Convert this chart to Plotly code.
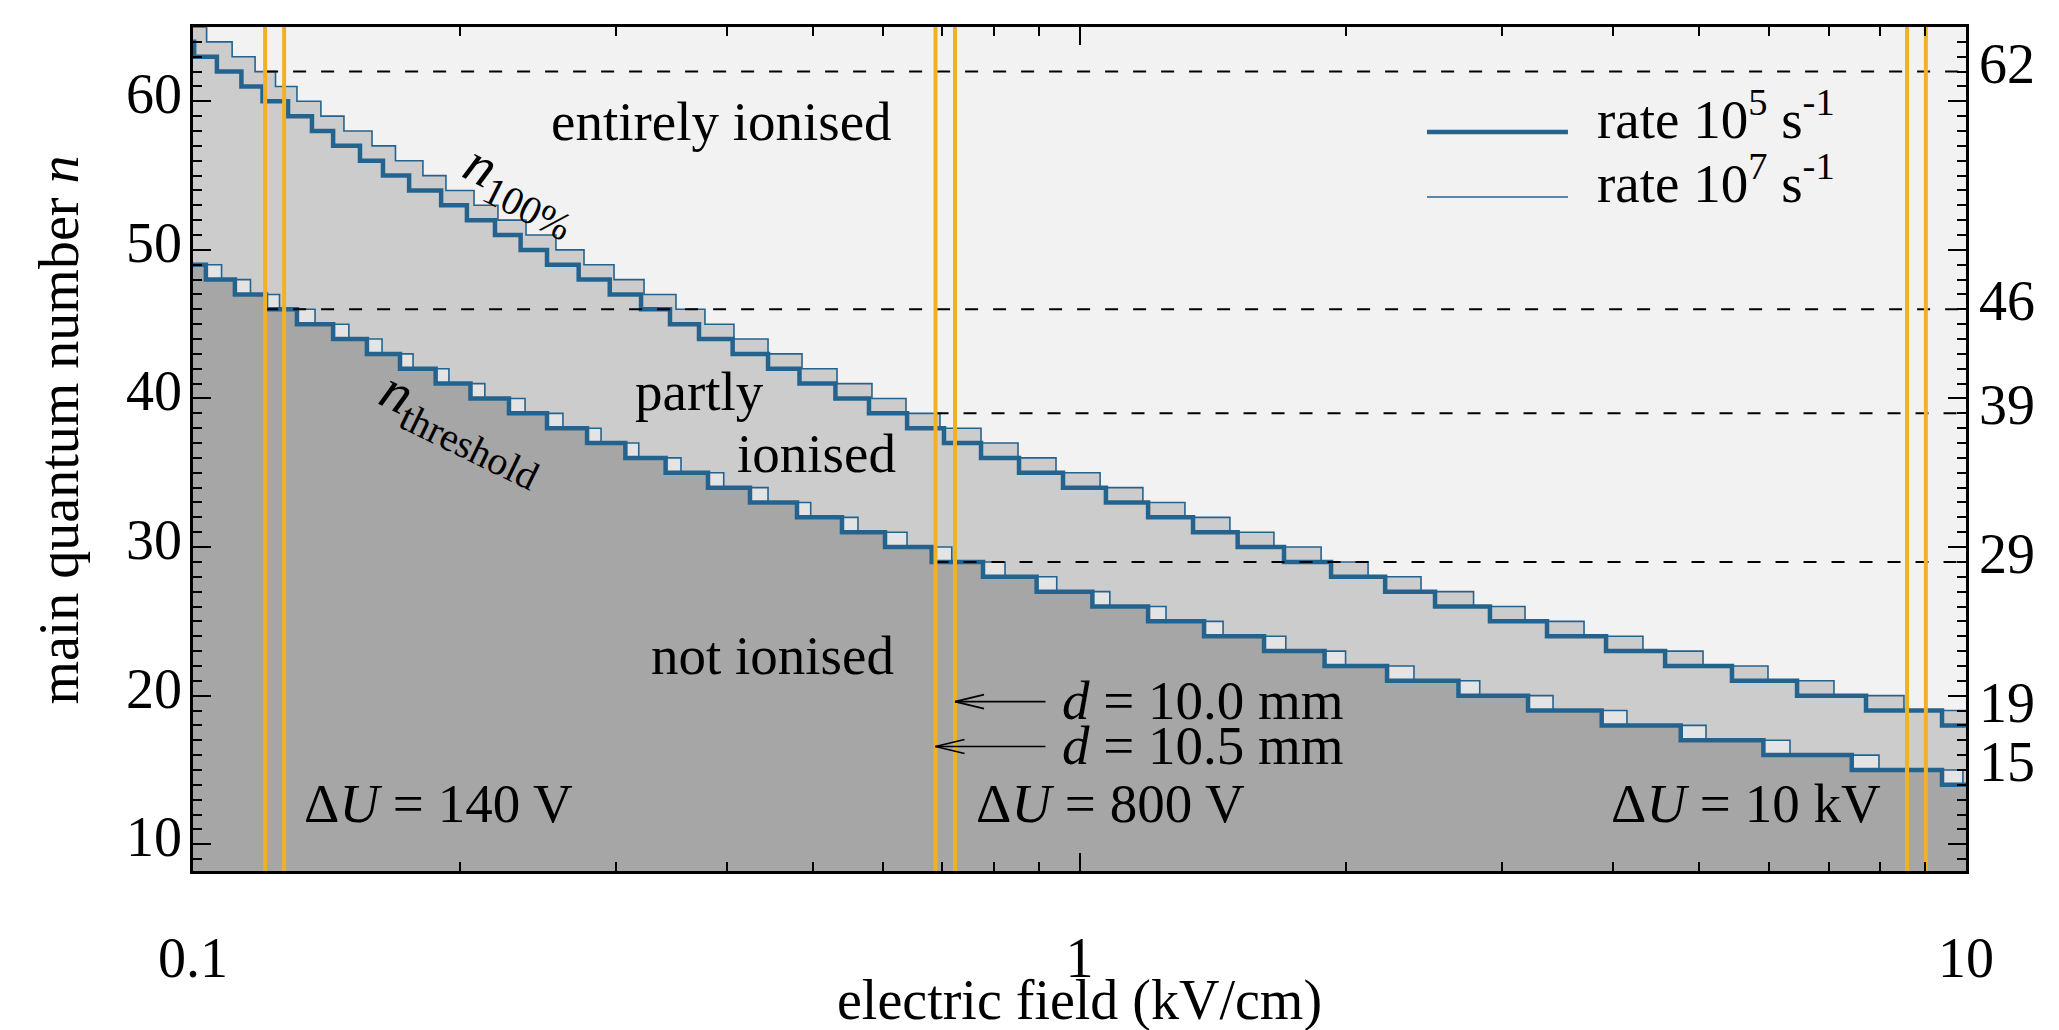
import math
import plotly.graph_objects as go

FONT = "Liberation Serif"
BLUE = "#25638f"
ORANGE = "#f0b224"

# axis extents
E_RANGE = (0.1, 10.0)      # electric field, kV/cm
N_RANGE = (8.2, 65.0)      # main quantum number n

# n_100% boundary: first level at 0.1 kV/cm, then the field (kV/cm) at which it drops by one
n100_slow_top = 64         # rate 1e5 s^-1
n100_slow_drops = [0.1003, 0.1064, 0.1134, 0.1198, 0.1280, 0.1362, 0.1439, 0.1543, 0.1638, 0.1753,
                   0.1905, 0.2037, 0.2191, 0.2342, 0.2508, 0.2723, 0.2952, 0.3202, 0.3452, 0.3722,
                   0.4062, 0.4453, 0.4832, 0.5305, 0.5788, 0.6390, 0.7033, 0.7743, 0.8546, 0.9581,
                   1.071, 1.195, 1.343, 1.508, 1.701, 1.922, 2.212, 2.518, 2.904, 3.368,
                   3.926, 4.577, 5.445, 6.448, 7.713, 9.396]
n100_fast_top = 65         # rate 1e7 s^-1
n100_fast_drops = [0.1036, 0.1107, 0.1175, 0.1239, 0.1310, 0.1394, 0.1480, 0.1592, 0.1692, 0.1817,
                   0.1929, 0.2075, 0.2208, 0.2375, 0.2567, 0.2761, 0.2985, 0.3227, 0.3506, 0.3780,
                   0.4076, 0.4453, 0.4864, 0.5327, 0.5833, 0.6372, 0.6960, 0.7743, 0.8524, 0.9408,
                   1.055, 1.179, 1.315, 1.478, 1.657, 1.873, 2.116, 2.428, 2.783, 3.181,
                   3.708, 4.321, 5.051, 5.979, 7.097, 8.512]

# n_threshold boundary
nthr_slow_top = 49         # rate 1e5 s^-1
nthr_slow_drops = [0.1034, 0.1115, 0.1209, 0.1310, 0.1439, 0.1571, 0.1712, 0.1878, 0.2056, 0.2272,
                   0.2508, 0.2783, 0.3074, 0.3413, 0.3810, 0.4249, 0.4801, 0.5396, 0.6034, 0.6812,
                   0.7783, 0.8946, 1.034, 1.195, 1.382, 1.615, 1.890, 2.223, 2.676, 3.206,
                   3.882, 4.767, 5.908, 7.432, 9.396]
nthr_fast_top = 49         # rate 1e7 s^-1
nthr_fast_drops = [0.1077, 0.1161, 0.1252, 0.1373, 0.1499, 0.1634, 0.1771, 0.1944, 0.2134, 0.2369,
                   0.2614, 0.2886, 0.3183, 0.3552, 0.3969, 0.4453, 0.4975, 0.5625, 0.6389, 0.7177,
                   0.8241, 0.9426, 1.082, 1.252, 1.452, 1.709, 1.996, 2.384, 2.828, 3.421,
                   4.145, 5.090, 6.331, 7.977, 9.920]

# plate voltages and resulting fields for the two electrode gaps
voltage_labels = ["140 V", "800 V", "10 kV"]
field_d105 = [0.1206, 0.688, 8.58]    # d = 10.5 mm
field_d100 = [0.1267, 0.7237, 9.01]   # d = 10.0 mm

# levels reached at the operating points
marked_n = [62, 46, 39, 29]
marked_from = [0.1206, 0.1206, 0.688, 0.688]
left_ticks = [10, 20, 30, 40, 50, 60]
right_ticks = [62, 46, 39, 29, 19, 15]
x_ticks = [0.1, 1, 10]
x_tick_text = ["0.1", "1", "10"]
x_minor = [0.2, 0.3, 0.4, 0.5, 0.6, 0.7, 0.8, 0.9, 2, 3, 4, 5, 6, 7, 8, 9]


def stair(top, drops):
    xs = [E_RANGE[0]] + list(drops) + [E_RANGE[1]]
    ys = [top - i for i in range(len(drops) + 1)]
    ys.append(ys[-1])
    return xs, ys


n100_slow = stair(n100_slow_top, n100_slow_drops)
n100_fast = stair(n100_fast_top, n100_fast_drops)
nthr_slow = stair(nthr_slow_top, nthr_slow_drops)
nthr_fast = stair(nthr_fast_top, nthr_fast_drops)

fig = go.Figure()

# region fills: partly ionised, gap between rates, not ionised
for (xs, ys), col in ((n100_fast, "#cccccc"), (nthr_fast, "#e4e4e4"), (nthr_slow, "#a6a6a6")):
    fig.add_trace(go.Scatter(x=xs, y=ys, mode="lines", line=dict(width=0, shape="hv"),
                             fill="tozeroy", fillcolor=col, hoverinfo="skip", showlegend=False))

# boundaries
for xs, ys in (n100_slow, nthr_slow):
    fig.add_trace(go.Scatter(x=xs, y=ys, mode="lines", line=dict(color=BLUE, width=4.5, shape="hv"),
                             hoverinfo="skip", showlegend=False))
for xs, ys in (n100_fast, nthr_fast):
    fig.add_trace(go.Scatter(x=xs, y=ys, mode="lines", line=dict(color=BLUE, width=1.6, shape="hv"),
                             hoverinfo="skip", showlegend=False))

# dashed guides at the reached levels
for n, f0 in zip(marked_n, marked_from):
    fig.add_trace(go.Scatter(x=[f0, E_RANGE[1]], y=[n, n], mode="lines",
                             line=dict(color="black", width=2, dash="13px,15px"),
                             hoverinfo="skip", showlegend=False))

# operating fields
for f in field_d105 + field_d100:
    fig.add_trace(go.Scatter(x=[f, f], y=list(N_RANGE), mode="lines",
                             line=dict(color=ORANGE, width=4), hoverinfo="skip", showlegend=False))

tfont = dict(family=FONT, size=56, color="black")

fig.update_layout(
    width=2059, height=1030, autosize=False,
    margin=dict(l=193, r=93, t=27, b=159),
    paper_bgcolor="white", plot_bgcolor="#f2f2f2",
    showlegend=False,
    xaxis=dict(type="log", range=[math.log10(E_RANGE[0]), math.log10(E_RANGE[1])],
               showline=True, linecolor="black", linewidth=2.5, mirror="ticks",
               ticks="inside", ticklen=18, tickwidth=2, tickcolor="black",
               tickmode="array", tickvals=x_ticks, ticktext=x_tick_text,
               minor=dict(ticks="inside", ticklen=9, tickwidth=2, tickcolor="black",
                          tickmode="array", tickvals=x_minor, showgrid=False),
               showgrid=False, zeroline=False, tickfont=tfont, ticklabelstandoff=36),
    yaxis=dict(range=list(N_RANGE), showline=True, linecolor="black", linewidth=2.5, mirror="ticks",
               ticks="inside", ticklen=18, tickwidth=2, tickcolor="black",
               tickmode="array", tickvals=left_ticks, showticklabels=False,
               minor=dict(ticks="inside", ticklen=9, tickwidth=2, tickcolor="black",
                          dtick=1, tick0=0, showgrid=False),
               showgrid=False, zeroline=False),
)


def note(text, x, y, size=55, angle=0, xanchor="center", yanchor="middle", ref="data",
         xshift=0, yshift=0):
    xr, yr = ("x", "y") if ref == "data" else ("paper", "paper")
    if ref == "ylevel":
        xr, yr = "paper", "y"
    fig.add_annotation(x=x, y=y, xref=xr, yref=yr, text=text, showarrow=False,
                       textangle=angle, xanchor=xanchor, yanchor=yanchor,
                       xshift=xshift, yshift=yshift,
                       font=dict(family=FONT, size=size, color="black"))


# y tick labels on both sides
for n in left_ticks:
    note(str(n), 0, n, size=56, xanchor="right", ref="ylevel", xshift=-9, yshift=7)
for n in right_ticks:
    note(str(n), 1, n, size=56, xanchor="left", ref="ylevel", xshift=11, yshift=8)

# axis titles
note("electric field (kV/cm)", 0.5, -0.153, size=56, ref="paper")
note("main quantum number <i>n</i>", -0.0758, 0.5225, size=56, angle=-90, ref="paper")

# region labels (x in log10 units)
note("entirely ionised", -0.4044, 58.64)
note("partly", -0.4281, 40.49)
note("ionised", -0.2972, 36.32)
note("not ionised", -0.3463, 22.67)
note("<i>n</i><sub>100%</sub>", -0.6300, 54.0, angle=27, size=57)
note("<i>n</i><sub>threshold</sub>", -0.6960, 38.03, angle=26, size=57)

# voltage labels
for lbl, xl in zip(voltage_labels, [-0.8770, -0.1190, 0.5973]):
    note("Δ<i>U</i> = " + lbl, xl, 12.72, xanchor="left")


def to_paper(f, n):
    lx0, lx1 = math.log10(E_RANGE[0]), math.log10(E_RANGE[1])
    return (math.log10(f) - lx0) / (lx1 - lx0), (n - N_RANGE[0]) / (N_RANGE[1] - N_RANGE[0])


# gap labels with open arrows pointing at the operating field lines
TAIL_X = 0.4808
BARB_DX, BARB_DY = 29 / 1773, 7 / 844
for lbl, f, n_tip in (("<i>d</i> = 10.0 mm", field_d100[1], 19.60),
                      ("<i>d</i> = 10.5 mm", field_d105[1], 16.58)):
    note(lbl, -0.0220, n_tip + 0.05, xanchor="left")
    px, py = to_paper(f, n_tip)
    arrow = dict(color="black", width=1.6)
    fig.add_shape(type="line", xref="paper", yref="paper", x0=TAIL_X, y0=py, x1=px, y1=py, line=arrow)
    for s in (-1, 1):
        fig.add_shape(type="line", xref="paper", yref="paper", x0=px, y0=py,
                      x1=px + BARB_DX, y1=py + s * BARB_DY, line=arrow)

# legend
for yp, w in ((0.8756, 4.5), (0.7986, 1.6)):
    fig.add_shape(type="line", xref="paper", yref="paper", x0=0.6960, x1=0.7755, y0=yp, y1=yp,
                  line=dict(color=BLUE, width=w))
note("rate 10<sup>5</sup> s<sup>-1</sup>", 0.7908, 0.8957, xanchor="left", ref="paper")
note("rate 10<sup>7</sup> s<sup>-1</sup>", 0.7908, 0.8199, xanchor="left", ref="paper")

fig.write_html("out.html")
